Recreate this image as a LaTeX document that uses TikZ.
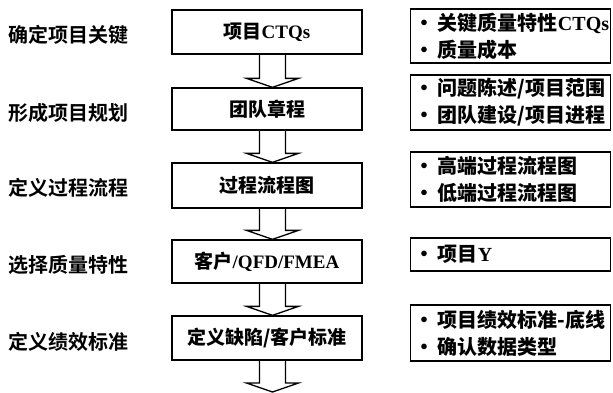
\documentclass[tikz,border=0pt]{standalone}
\usepackage{fontspec}
\setmainfont{Liberation Serif}
\newfontfamily\cjk{Noto Sans CJK SC Bold}
\usetikzlibrary{calc}
\begin{document}
\begin{tikzpicture}[x=1pt,y=-1pt,
  every node/.style={font=\bfseries},
  midbox/.style={draw,line width=1.3pt,minimum width=190pt,inner sep=0pt,font=\fontsize{19}{22}\selectfont\bfseries},
  sidebox/.style={draw,line width=1.3pt,minimum width=200pt,text width=192pt,align=left,inner xsep=4pt,inner ysep=0pt,anchor=west,font=\fontsize{20}{27}\selectfont\bfseries},
  steplabel/.style={font=\fontsize{20}{22}\selectfont\cjk},
  arrowline/.style={draw,line width=1.3pt,line join=miter}
]
\useasboundingbox (0,0) rectangle (613,392);
\newcommand\blockarrow[2]{%
  \path[arrowline] let \p1=(#1.south), \p2=(#2) in
    (259.5,\y1) -- (259.5,{\y2+9pt}) -- (246.5,{\y2+9pt}) -- (272.5,\y2)
    -- (298.5,{\y2+9pt}) -- (285.5,{\y2+9pt}) -- (285.5,\y1);}

% left labels
\node[steplabel] (l1) at (69,35) {确定项目关键};
\node[steplabel] (l2) at (69,113) {形成项目规划};
\node[steplabel] (l3) at (69,188) {定义过程流程};
\node[steplabel] (l4) at (69,265) {选择质量特性};
\node[steplabel] (l5) at (69,342) {定义绩效标准};

% middle boxes
\node[midbox,minimum height=44pt] (b1) at (267,32) {{\cjk 项目}CTQs};
\node[midbox,minimum height=42pt] (b2) at (267,109) {\cjk 团队章程};
\node[midbox,minimum height=45pt] (b3) at (267,185.5) {\cjk 过程流程图};
\node[midbox,minimum height=43pt] (b4) at (267,261.5) {{\cjk 客户}/QFD/FMEA};
\node[midbox,minimum height=44pt] (b5) at (267,338) {{\cjk 定义缺陷/客户标准}};
\coordinate (end) at (272.5,392);

% arrows
\blockarrow{b1}{b2.north}
\blockarrow{b2}{b3.north}
\blockarrow{b3}{b4.north}
\blockarrow{b4}{b5.north}
\blockarrow{b5}{end}

% right boxes
\node[sidebox,minimum height=54pt] (r1) at (410,36) {{\cjk ·\,关键质量特性}CTQs\\{\cjk ·\,质量成本}};
\node[sidebox,minimum height=55pt] (r2) at (410,102.5) {{\cjk ·\,问题陈述/项目范围}\\{\cjk ·\,团队建设/项目进程}};
\node[sidebox,minimum height=55pt] (r3) at (410,179.5) {{\cjk ·\,高端过程流程图}\\{\cjk ·\,低端过程流程图}};
\node[sidebox,minimum height=33pt] (r4) at (410,254.5) {{\cjk ·\,项目}Y};
\node[sidebox,minimum height=56pt] (r5) at (410,333) {{\cjk ·\,项目绩效标准-底线}\\{\cjk ·\,确认数据类型}};
\end{tikzpicture}
\end{document}
